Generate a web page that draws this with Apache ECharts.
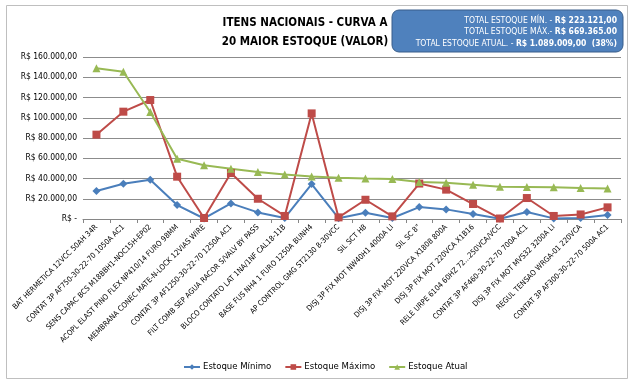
<!DOCTYPE html>
<html><head><meta charset="utf-8">
<script src="https://cdn.jsdelivr.net/npm/echarts@6/dist/echarts.min.js"></script>
<style>html,body{margin:0;padding:0;background:#fff}#c{width:636px;height:387px}</style>
</head><body><div id="c"></div>
<script>
const categories = [
  "BAT HERMETICA 12VCC 50AH 34R",
  "CONTAT 3P AF750-30-22-70 1050A AC1",
  "SENS CAPAC BCS M18BBH1-NOC15H-EP02",
  "ACOPL ELAST PINO FLEX NP410/14 FURO 98MM",
  "MEMBRANA CONEC MATE-N-LOCK 12VIAS WIRE",
  "CONTAT 3P AF1250-30-22-70 1250A AC1",
  "FILT COMB SEP AGUA RACOR S/VALV BY PASS",
  "BLOCO CONTATO LAT 1NA/1NF CAL18-11B",
  "BASE FUS NH4 1 FURO 1250A BUNH4",
  "AP CONTROL GMG ST2130 8-30VCC",
  "SIL SCT H8",
  "DISJ 3P FIX MOT NW40H1 4000A LI",
  "SIL SC 8\"",
  "DISJ 3P FIX MOT 220VCA X1808 800A",
  "DISJ 3P FIX MOT 220VCA X1B16",
  "RELE URPE 6104 60HZ 72...250VCA/VCC",
  "CONTAT 3P AF460-30-22-70 700A AC1",
  "DISJ 3P FIX MOT MVS32 3200A LI",
  "REGUL TENSAO WRGA-01 220VCA",
  "CONTAT 3P AF300-30-22-70 500A AC1"
];
const estoqueMinimo = [27700, 34900, 38800, 13800, 500, 15400, 6500, 1000, 34500, 800, 6200, 1000, 11800, 9500, 4900, 200, 6900, 600, 1000, 3900];
const estoqueMaximo = [83300, 106000, 117500, 41800, 1000, 45400, 20000, 3000, 104300, 1600, 19000, 2600, 35000, 29000, 14800, 500, 20700, 3000, 4500, 11500];
const estoqueAtual = [149000, 145500, 105700, 59600, 53000, 49700, 46400, 44000, 42000, 40800, 40100, 39500, 36500, 35800, 33900, 31900, 31600, 31300, 30600, 30200];
const seriesNames = ["Estoque Mínimo", "Estoque Máximo", "Estoque Atual"];
const titleLines = ["ITENS NACIONAIS - CURVA A", "20 MAIOR ESTOQUE (VALOR)"];
const boxLines = [
  ["TOTAL ESTOQUE MÍN. - ", "R$ 223.121,00"],
  ["TOTAL ESTOQUE MÁX.- ", "R$ 669.365.00"],
  ["TOTAL ESTOQUE ATUAL. - ", "R$ 1.089.009,00  (38%)"]
];

const FONT = "'Liberation Sans Narrow', 'DejaVu Sans Condensed', sans-serif";
function fmt(v){
  if (v === 0) return "R$ -";
  return "R$ " + String(Math.round(v)).replace(/\B(?=(\d{3})+(?!\d))/g, ".") + ",00";
}
const chart = echarts.init(document.getElementById('c'), null, {renderer:'canvas'});
const colors = ['#4A7EBB', '#BE4B48', '#98B954'];
chart.setOption({
  animation: false,
  color: colors,
  textStyle: {fontFamily: FONT},
  grid: {left: 83, right: 15, top: 57, bottom: 168, containLabel: false},
  legend: {
    top: 357, left: 178, itemGap: 13, itemWidth: 16, itemHeight: 7,
    textStyle: {fontSize: 9.5, color: '#000', fontFamily: FONT, padding: [0, 0, 0, -2]},
    data: seriesNames
  },
  xAxis: {
    type: 'category', data: categories, boundaryGap: true,
    axisLine: {lineStyle: {color: '#868686', width: 1}},
    axisTick: {show: true, length: 4, lineStyle: {color: '#868686'}},
    axisLabel: {interval: 0, rotate: 45, fontSize: 7.6, color: '#000', margin: 7, fontFamily: FONT}
  },
  yAxis: {
    type: 'value', min: 0, max: 160000, interval: 20000,
    axisLine: {show: false}, axisTick: {show: false},
    splitLine: {lineStyle: {color: '#8c8c8c', width: 1}},
    axisLabel: {formatter: fmt, fontSize: 8.5, color: '#000', margin: 6, fontFamily: FONT}
  },
  series: [
    {name: seriesNames[0], type: 'line', data: estoqueMinimo, symbol: 'diamond', symbolSize: 8,
     lineStyle: {width: 2}, itemStyle: {color: colors[0]}},
    {name: seriesNames[1], type: 'line', data: estoqueMaximo, symbol: 'rect', symbolSize: 8,
     lineStyle: {width: 2}, itemStyle: {color: colors[1]}},
    {name: seriesNames[2], type: 'line', data: estoqueAtual, symbol: 'triangle', symbolSize: 8,
     lineStyle: {width: 2}, itemStyle: {color: colors[2]}}
  ],
  graphic: [
    {type: 'rect', shape: {x: 6.5, y: 5.5, width: 621, height: 373}, style: {fill: 'none', stroke: '#bfbfbf', lineWidth: 1}, z: -1},
    {type: 'text', x: 305, y: 14, style: {text: titleLines.join('\n'), font: 'bold 11.5px ' + FONT, fill: '#000', lineHeight: 19, align: 'center', textAlign: 'center'}},
    {type: 'rect', shape: {x: 392, y: 10, width: 231, height: 42, r: 7}, style: {fill: '#4F81BD', stroke: '#385D8A', lineWidth: 1}},
    {type: 'text', x: 617, y: 15, style: {
      rich: {n: {fontSize: 8.5, fill: '#fff', fontFamily: FONT, lineHeight: 11.5, align: 'right'}, b: {fontSize: 8.5, fontWeight: 'bold', fill: '#fff', fontFamily: FONT, lineHeight: 11.5, align: 'right'}},
      text: boxLines.map(l => '{n|' + l[0] + '}{b|' + l[1] + '}').join('\n'), align: 'right', textAlign: 'right'}}
  ]
});
</script></body></html>
